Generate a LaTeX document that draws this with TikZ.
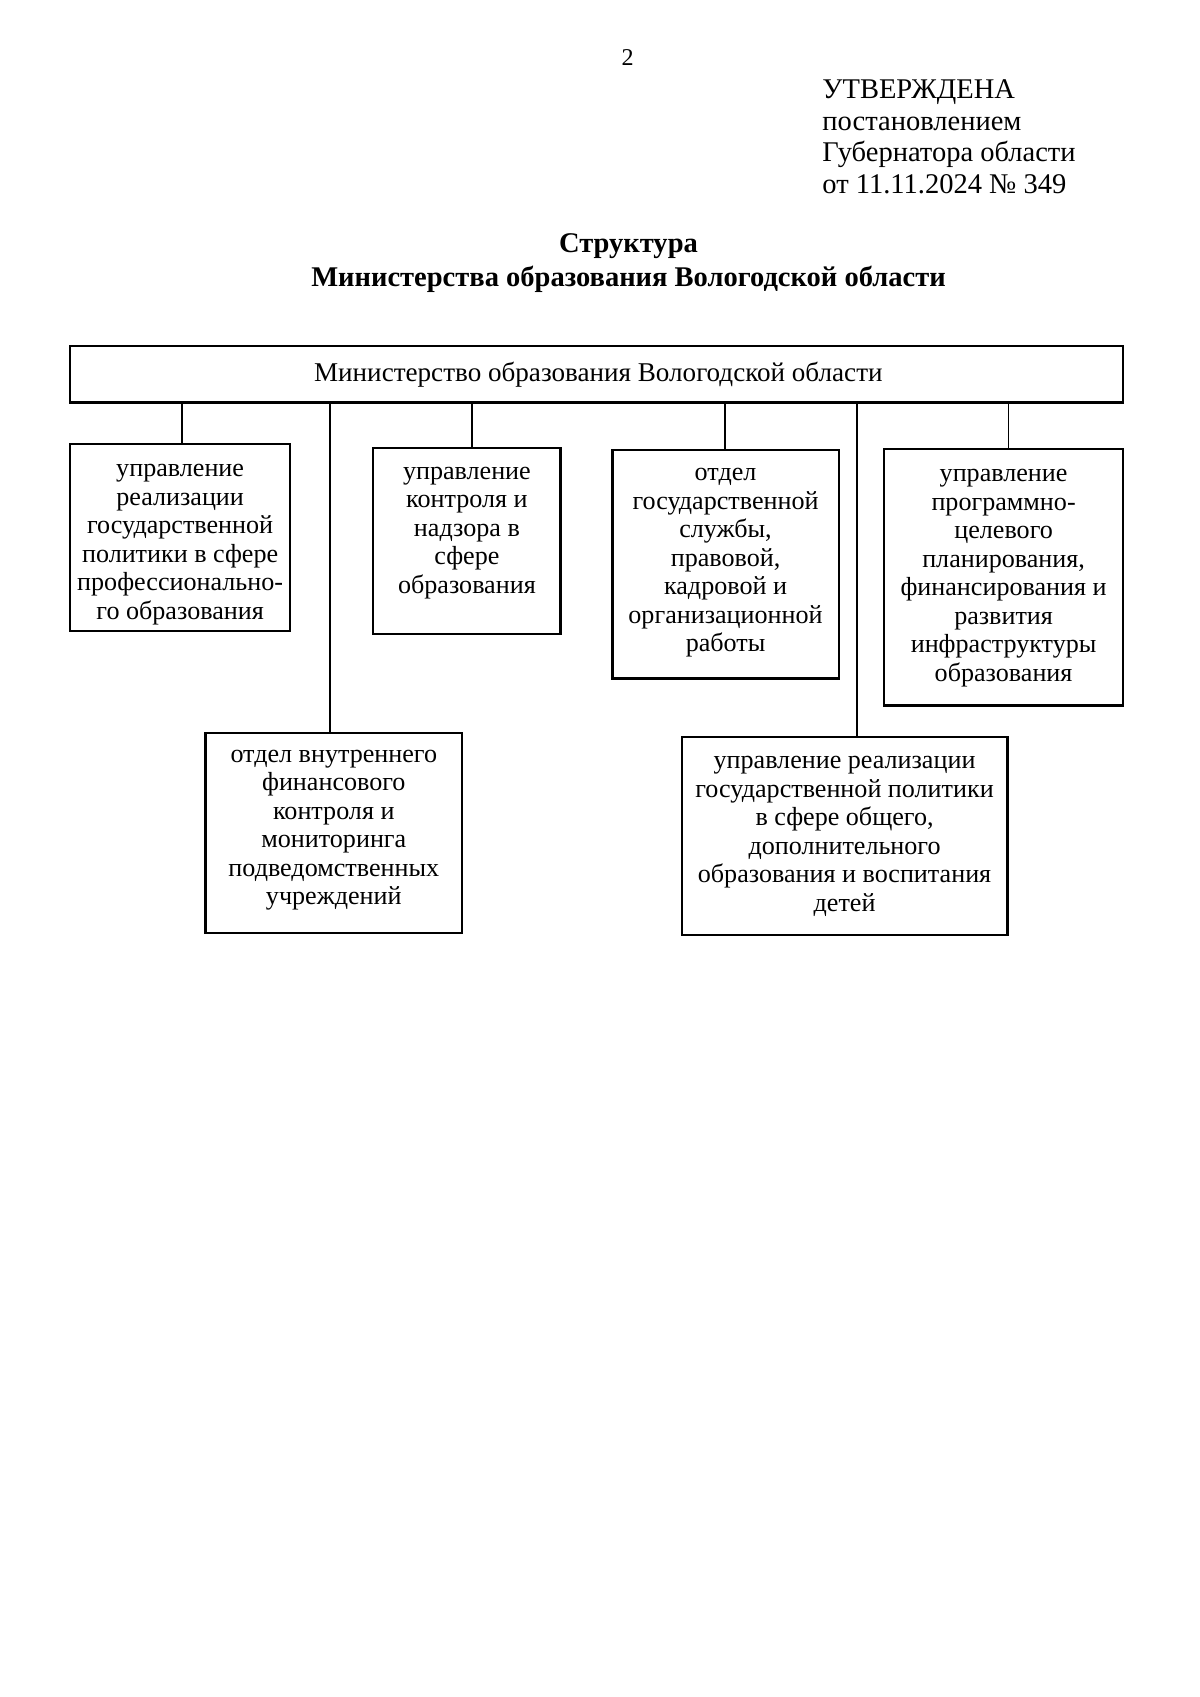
\documentclass[tikz,border=0pt]{standalone}
\usepackage{fontspec}
\setmainfont{Liberation Serif}
\usetikzlibrary{fit}
\begin{document}
\begin{tikzpicture}[x=0.4979pt,y=-0.4979pt,
  boxst/.style={draw, line width=1.1pt, inner sep=0pt},
  btxt/.style={inner sep=0pt, align=center, anchor=north, font=\fontsize{13}{14.2}\selectfont},
  conn/.style={line width=0.8pt}]
\useasboundingbox (0,0) rectangle (1200,1697);
% header
\node[inner sep=0pt, font=\fontsize{12}{14}\selectfont] (pg) at (627.6,57.4) {2};
\node[inner sep=0pt, anchor=north west, align=left, font=\fontsize{14.2}{15.7}\selectfont] (appr) at (822,76)
  {\strut УТВЕРЖДЕНА\\постановлением\\Губернатора области\\от 11.11.2024 № 349};
\node[inner sep=0pt, anchor=north, align=center, font=\bfseries\fontsize{14.2}{16.9}\selectfont] (title) at (628.5,228)
  {\strut Структура\\Министерства образования Вологодской области};
% top box
\node[boxst, fit={(70.3,346.3) (1123.2,402.5)}] (min) {};
\node[inner sep=0pt, font=\fontsize{13.5}{16}\selectfont] (mintxt) at ([xshift=0.8pt]min.center) {Министерство образования Вологодской области};
% boxes
\node[boxst, fit={(70.3,443.7) (290,630.9)}] (b1) {};
\node[boxst, fit={(373.3,448) (560.5,634)}] (b2) {};
\node[boxst, fit={(612.5,450) (838.6,678.5)}] (b3) {};
\node[boxst, fit={(884,449) (1123.2,705.5)}] (b4) {};
\node[boxst, fit={(205.6,732.6) (462,932.8)}] (b5) {};
\node[boxst, fit={(681.7,737) (1007.4,935)}] (b6) {};
\node[btxt] (t1) at ([yshift=-6.8pt]b1.north) {\strut управление\\реализации\\государственной\\политики в сфере\\профессионально-\\го образования};
\node[btxt] (t2) at ([yshift=-6.0pt]b2.north) {\strut управление\\контроля и\\надзора в\\сфере\\образования};
\node[btxt] (t3) at ([yshift=-5.6pt]b3.north) {\strut отдел\\государственной\\службы,\\правовой,\\кадровой и\\организационной\\работы};
\node[btxt] (t4) at ([yshift=-6.6pt]b4.north) {\strut управление\\программно-\\целевого\\планирования,\\финансирования и\\развития\\инфраструктуры\\образования};
\node[btxt] (t5) at ([yshift=-5.1pt]b5.north) {\strut отдел внутреннего\\финансового\\контроля и\\мониторинга\\подведомственных\\учреждений};
\node[btxt] (t6) at ([yshift=-6.1pt]b6.north) {\strut управление реализации\\государственной политики\\в сфере общего,\\дополнительного\\образования и воспитания\\детей};
% connector x positions
\coordinate (x1) at (181.8,0);
\coordinate (x2) at (330,0);
\coordinate (x3) at (471.8,0);
\coordinate (x4) at (725,0);
\coordinate (x5) at (857,0);
\coordinate (x6) at (1008.5,0);
\draw[conn] (min.south -| x1) -- (b1.north -| x1);
\draw[conn] (min.south -| x2) -- (b5.north -| x2);
\draw[conn] (min.south -| x3) -- (b2.north -| x3);
\draw[conn] (min.south -| x4) -- (b3.north -| x4);
\draw[conn] (min.south -| x5) -- (b6.north -| x5);
\draw[conn] (min.south -| x6) -- (b4.north -| x6);
\end{tikzpicture}
\end{document}
